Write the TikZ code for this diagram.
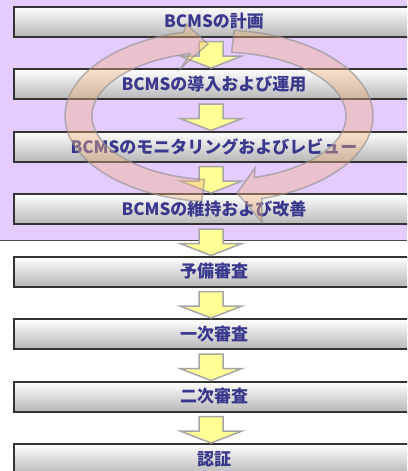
\documentclass[tikz,border=0pt]{standalone}
\usepackage{fontspec}
\newfontfamily\jpfont{Noto Sans CJK JP}
\usetikzlibrary{calc}

\definecolor{lavender}{RGB}{228,204,255}
\definecolor{labelblue}{RGB}{58,56,140}
\definecolor{ringpeach}{RGB}{242,180,130}
\definecolor{arrowyellow}{RGB}{255,255,150}

\tikzset{
  stagebox/.style={draw=black!80, line width=2pt, top color=white, bottom color=black!28,
    minimum width=400pt, minimum height=30pt, inner sep=0pt,
    font=\jpfont\bfseries\fontsize{17}{17}\selectfont, text=labelblue},
  flowarr/.style={draw=black!35, line width=1.5pt, fill=arrowyellow, line join=miter},
  cyclering/.style={fill=ringpeach, fill opacity=0.4, draw=black!45, draw opacity=0.6, line width=1.5pt}
}

\newcommand{\flowarrow}[2]{%
  \draw[flowarr] ($(#1.south)+(-15,4)$) -- ($(#1.south)+(9,4)$) -- ($(#2.north)+(9,-12)$)
    -- ($(#2.north)+(28,-12)$) -- ($(#2.north)+(-3,0)$) -- ($(#2.north)+(-34,-12)$)
    -- ($(#2.north)+(-15,-12)$) -- cycle;}

\begin{document}
\begin{tikzpicture}[x=1pt,y=-1pt]
\useasboundingbox (0,0) rectangle (407,471);
\clip (0,0) rectangle (407,471);

\fill[lavender] (0,0) rectangle (407,240);
\draw[black!70, line width=1pt] (0,240)--(407,240);

\node[stagebox] (plan) at (214,21.5) {BCMSの計画};
\node[stagebox] (operate) at (214,84) {BCMSの導入および運用};
\node[stagebox] (monitor) at (214,146.5) {BCMSのモニタリングおよびレビュー};
\node[stagebox] (improve) at (214,209) {BCMSの維持および改善};
\node[stagebox] (prelim) at (214,271.5) {予備審査};
\node[stagebox] (first) at (214,334) {一次審査};
\node[stagebox] (second) at (214,396.5) {二次審査};
\node[stagebox] (certify) at (214,459) {認証};

\flowarrow{plan}{operate}
\flowarrow{operate}{monitor}
\flowarrow{monitor}{improve}
\flowarrow{improve}{prelim}
\flowarrow{prelim}{first}
\flowarrow{first}{second}
\flowarrow{second}{certify}

\fill[cyclering] ($(219,116)+(96.5:154 and 86)$) arc[start angle=96.5, end angle=256.8, x radius=154, y radius=86]
  -- (186,24) -- (208,44) -- (181,68) -- ($(219,116)+(256.8:127 and 64)$)
  arc[start angle=256.8, end angle=96.5, x radius=127, y radius=64] -- cycle;
\fill[cyclering] ($(219,116)+(275.7:154 and 86)$) arc[start angle=275.7, end angle=433.8, x radius=154, y radius=86]
  -- (262,222) -- (237,193) -- (255,168) -- ($(219,116)+(433.8:127 and 64)$)
  arc[start angle=433.8, end angle=275.7, x radius=127, y radius=64] -- cycle;
\end{tikzpicture}
\end{document}
